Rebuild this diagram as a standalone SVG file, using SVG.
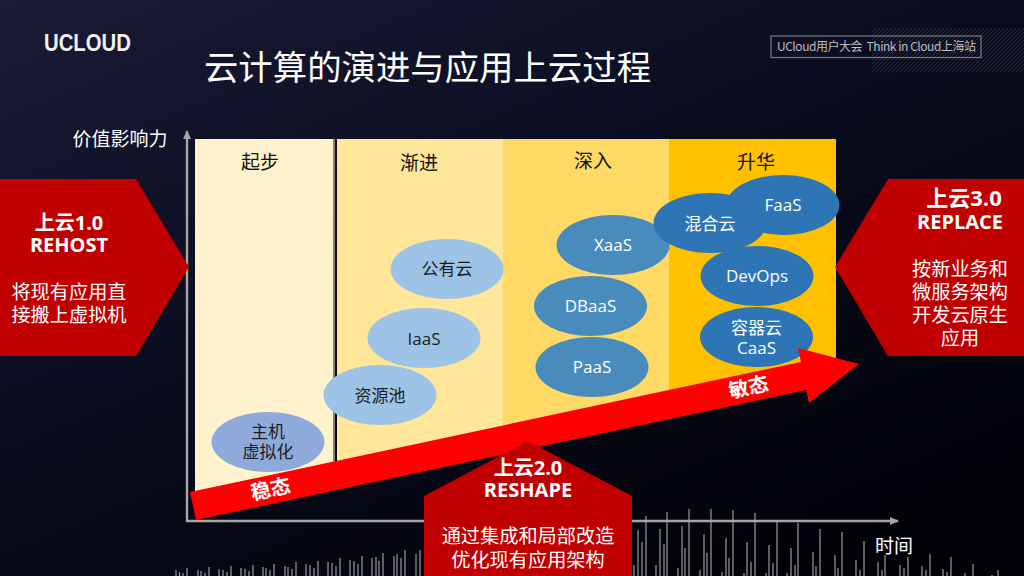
<svg xmlns="http://www.w3.org/2000/svg" width="1024" height="576" viewBox="0 0 1024 576">
<defs>
<linearGradient id="bg" x1="0" y1="0" x2="0.75" y2="1"><stop offset="0" stop-color="#1a1b35"/><stop offset="0.45" stop-color="#0b0d20"/><stop offset="1" stop-color="#010208"/></linearGradient>
<pattern id="hatch" width="4" height="4" patternUnits="userSpaceOnUse"><path d="M0 4L4 0" stroke="#2b2d3c" stroke-width="1"/></pattern>
<marker id="ah" markerWidth="10" markerHeight="8" refX="8" refY="4" orient="auto" markerUnits="userSpaceOnUse"><path d="M0 0L9 4L0 8Z" fill="#a6a6a6"/></marker>
</defs>
<style>
text{font-family:"Noto Sans CJK SC","Noto Sans",sans-serif;text-anchor:middle}
.lat{font-family:"Open Sans","Noto Sans CJK SC",sans-serif}
.k{fill:#111;font-size:19px}
.w{fill:#fff;font-size:19px}
.e{font-size:17px;fill:#1c1c1c}
.d{fill:#fff;font-size:17px}
.h{fill:#fff;font-size:20px;font-weight:700}
.b{fill:#fff;font-size:19.2px}
.r{fill:#c00000}
.ax{stroke:#a6a6a6;stroke-width:2.4;fill:none;marker-end:url(#ah)}
</style>
<rect width="1024" height="576" fill="url(#bg)"/>
<rect x="872" y="28" width="152" height="44" fill="url(#hatch)"/>
<path id="waveform" fill="none" stroke="#9a9a9a" stroke-width="1.200" d="M176 576V570M179.500 576V572M183 576V573M187 576V568M198 576V570M201 576V571M205 576V573M209 576V567M219 576V569M223 576V570M227 576V572M231 576V566M241 576V568M245 576V569M249 576V571M253 576V565M263 576V567M266 576V568M270 576V570M274 576V564M285 576V566M288 576V567M292 576V569M296 576V562M306 576V564M310 576V565M314 576V568M318 576V561M328 576V562M332 576V563M336 576V566M340 576V558M350 576V560M354 576V561M358 576V564M362 576V556M372 576V558M376 576V557M379 576V561M383 576V553M394 576V556M397 576V554M401 576V558M405 576V550M416 576V554M420 576V550M634 576V565M638 576V530M642 576V542M646 576V516M656 576V565M660 576V529M664 576V544M667 576V512M678 576V568M682 576V526M685 576V548M689 576V509M700 576V570M704 576V534M707 576V553M711 576V509M722 576V572M726 576V538M729 576V558M733 576V510M744 576V573M747 576V542M751 576V562M755 576V513M766 576V573M769 576V545M773 576V563M777 576V522M787 576V573M791 576V548M795 576V565M798 576V523M813 576V552M816 576V566M820 576V529M835 576V555M838 576V568M842 576V532M856 576V560M860 576V570M864 576V541M878 576V562M882 576V570M885 576V555M900 576V565M904 576V568M908 576V557M922 576V566M926 576V570M930 576V554M943 576V569M947 576V572M951 576V557M965 576V573M973 576V564M992 576V575M998 576V570"/>
<g id="logo"><text x="87.500" y="51" font-size="23" font-weight="700" fill="#f2f2f2" textLength="87" lengthAdjust="spacingAndGlyphs" style="font-family:'Liberation Sans',sans-serif">UCLOUD</text></g>
<g id="title"><text x="427.500" y="80" font-size="34.400" fill="#fff">云计算的演进与应用上云过程</text></g>
<g id="event-tag"><rect x="771" y="36" width="210" height="21.500" fill="none" stroke="#73737f" stroke-width="1.300"/><text x="876.500" y="51" font-size="12" fill="#bcbcc3" textLength="199" style="white-space:pre">UCloud用户大会  Think in Cloud上海站</text></g>
<g id="panel-start"><path d="M195 139H333.500V464L195 494Z" fill="#fff2cc"/><path d="M334.500 139V464" stroke="#8a8578" stroke-width="1"/><text x="260" y="169" class="k">起步</text></g>
<g id="panel-gradual"><path d="M337 139H503V428L337 464Z" fill="#ffe699"/><text x="419" y="170" class="k">渐进</text></g>
<g id="panel-deep"><path d="M503 139H669V393L503 428Z" fill="#ffd966"/><text x="593" y="168" class="k">深入</text></g>
<g id="panel-upgrade"><path d="M669 139H836V358L669 393Z" fill="#ffc000"/><text x="756" y="169" class="k">升华</text></g>
<g id="connectors">
<path class="ax" d="M187 521V131"/>
<path class="ax" d="M186 521H898"/>
</g>
<g id="n-host"><ellipse cx="268" cy="442" rx="56.500" ry="30" fill="#8eaadb"/><text x="268" y="438" class="e">主机</text><text x="268" y="458" class="e">虚拟化</text></g>
<g id="n-pool"><ellipse cx="380" cy="395" rx="56.500" ry="30" fill="#9dc3e6"/><text x="380" y="402" class="e">资源池</text></g>
<g id="n-iaas"><ellipse cx="424" cy="338" rx="56.500" ry="30" fill="#9dc3e6"/><text x="424" y="345" class="e lat">IaaS</text></g>
<g id="n-public"><ellipse cx="447" cy="269" rx="56.500" ry="30" fill="#9dc3e6"/><text x="447" y="275" class="e">公有云</text></g>
<g id="n-xaas"><ellipse cx="613" cy="245" rx="56.500" ry="30" fill="#4a8bbd"/><text x="613" y="251" class="d lat">XaaS</text></g>
<g id="n-dbaas"><ellipse cx="590.500" cy="306" rx="56.500" ry="30" fill="#4a8bbd"/><text x="590.500" y="312" class="d lat">DBaaS</text></g>
<g id="n-paas"><ellipse cx="592" cy="367" rx="56.500" ry="30" fill="#4a8bbd"/><text x="592" y="373" class="d lat">PaaS</text></g>
<g id="n-hybrid"><ellipse cx="710" cy="223" rx="56.500" ry="30" fill="#2e75b6"/><text x="710" y="230" class="d">混合云</text></g>
<g id="n-faas"><ellipse cx="783" cy="205" rx="56.500" ry="30" fill="#2e75b6"/><text x="783" y="211" class="d lat">FaaS</text></g>
<g id="n-devops"><ellipse cx="757" cy="276" rx="56.500" ry="30" fill="#2e75b6"/><text x="757" y="282" class="d lat">DevOps</text></g>
<g id="n-caas"><ellipse cx="756.500" cy="337" rx="56.500" ry="30" fill="#2e75b6"/><text x="756.500" y="334" class="d">容器云</text><text x="756.500" y="354" class="d lat">CaaS</text></g>
<g id="trend-arrow"><path d="M190 492L801 362L798 348L859 364L809 403L806 390L196 520Z" fill="#f00"/>
<text transform="translate(272 496) rotate(-12)" class="h">稳态</text>
<text transform="translate(750 394) rotate(-12)" class="h">敏态</text></g>
<g id="axis-labels"><text x="120" y="146" class="w">价值影响力</text><text x="894" y="553" class="w">时间</text></g>
<g id="rehost"><path class="r" d="M0 179H136L189 267L136 356H0Z"/><text x="69" y="230" class="h lat">上云1.0</text><text x="69" y="252" class="h lat">REHOST</text><text x="69" y="299" class="b">将现有应用直</text><text x="69" y="322" class="b">接搬上虚拟机</text></g>
<g id="replace"><path class="r" d="M835 267L888 179H1024V356H888Z"/><text x="964" y="206" class="h lat" style="font-size:22px">上云3.0</text><text x="960" y="229" class="h lat">REPLACE</text><text x="960" y="276" class="b">按新业务和</text><text x="960" y="299" class="b">微服务架构</text><text x="960" y="322" class="b">开发云原生</text><text x="960" y="345" class="b">应用</text></g>
<g id="reshape"><path class="r" d="M528 441L632 496V576H424V496Z"/><text x="528" y="475" class="h lat">上云2.0</text><text x="528" y="497" class="h lat">RESHAPE</text><text x="528" y="543" class="b">通过集成和局部改造</text><text x="528" y="567" class="b">优化现有应用架构</text></g>
</svg>
